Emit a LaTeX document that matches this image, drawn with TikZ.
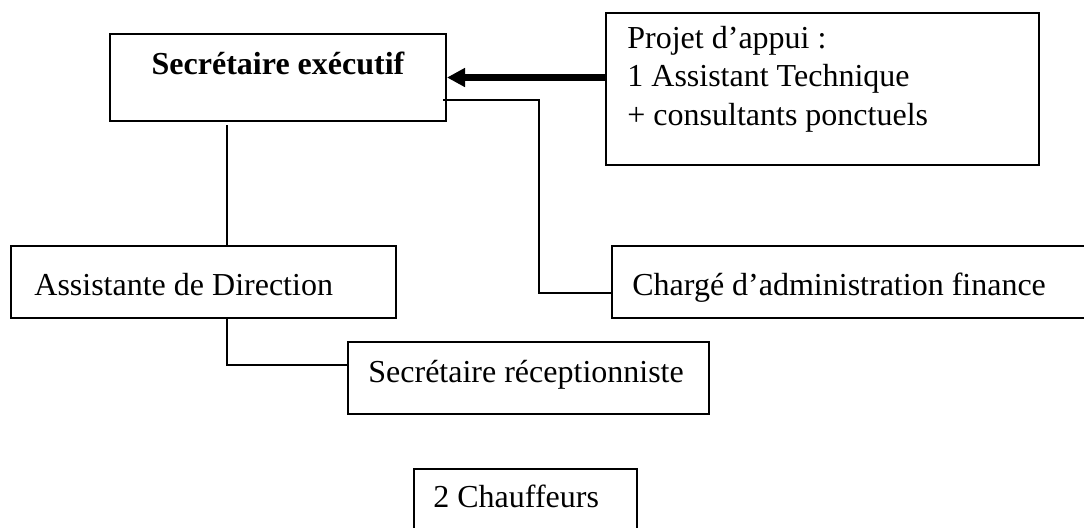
\documentclass[tikz,border=0pt]{standalone}
\usepackage{fontspec}
\setmainfont{Liberation Serif}
\usetikzlibrary{arrows.meta,positioning}

\tikzset{
  orgbox/.style={draw, line width=1pt, rectangle, anchor=north west, inner sep=0pt},
  boxtext/.style={anchor=base west, inner sep=0pt, font=\fontsize{16}{19.3}\selectfont},
  link/.style={line width=0.9pt},
  bigarrow/.style={line width=3.5pt, -{Triangle[length=9pt,width=9pt]}}
}

\begin{document}
\begin{tikzpicture}[x=0.5pt, y=-0.5pt]
\useasboundingbox (0,0) rectangle (1084,527);

% boxes
\node[orgbox, minimum width=168pt, minimum height=43.5pt] (exec) at (109,33) {};
\node[orgbox, minimum width=216.5pt, minimum height=76pt] (appui) at (605,12) {};
\node[orgbox, minimum width=192.5pt, minimum height=36pt] (assist) at (10,245) {};
\node[orgbox, minimum width=238pt, minimum height=36pt] (admin) at (611,245) {};
\node[orgbox, minimum width=180.5pt, minimum height=36pt] (recep) at (347,341) {};
\node[orgbox, minimum width=111.5pt, minimum height=36pt] (chauff) at (413,468) {};

% texts
\node[boxtext, anchor=base, font=\fontsize{16}{19.3}\selectfont\bfseries] (exectxt) at ([yshift=-20.5pt]exec.north) {Secrétaire exécutif};
\node[boxtext, text width=200pt, align=flush left] (appuitxt) at ([shift={(11pt,-18pt)}]appui.north west)
  {Projet d’appui :\\1 Assistant Technique\\+ consultants ponctuels};
\node[boxtext] (assisttxt) at ([shift={(12pt,-25pt)}]assist.north west) {Assistante de Direction};
\node[boxtext] (admintxt) at ([shift={(10.5pt,-25pt)}]admin.north west) {Chargé d’administration finance};
\node[boxtext] (receptxt) at ([shift={(10.5pt,-20.5pt)}]recep.north west) {Secrétaire réceptionniste};
\node[boxtext] (chaufftxt) at ([shift={(10pt,-19.5pt)}]chauff.north west) {2 Chauffeurs};

% links
\draw[bigarrow] (exec.east -| appui.west) -- (exec.east);

\coordinate (down) at (227,125);
\draw[link] (down) -- (down |- assist.north);

\coordinate (side) at (443,100);
\coordinate (bend) at (539,293);
\draw[link] (side) -| (bend) -- (bend -| admin.west);

\coordinate (drop) at (227,365);
\draw[link] (drop |- assist.south) -- (drop) -- (drop -| recep.west);

\end{tikzpicture}
\end{document}
